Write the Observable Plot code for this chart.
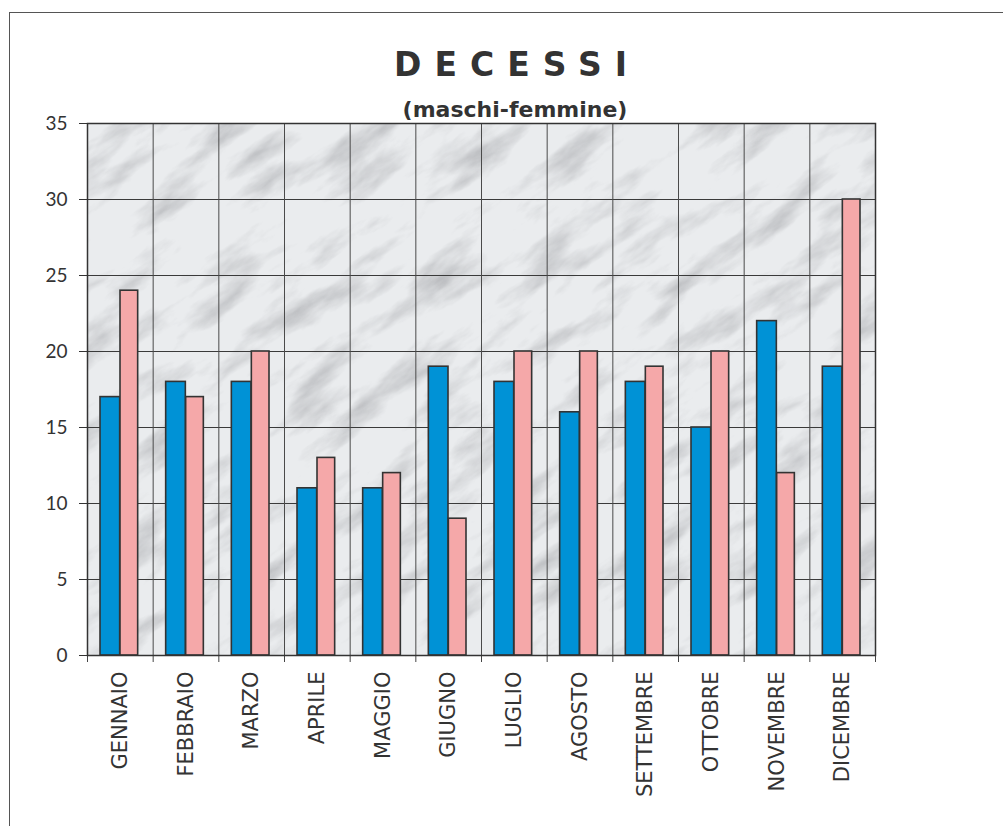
<!DOCTYPE html>
<html>
<head>
<meta charset="utf-8">
<script src="https://cdn.jsdelivr.net/npm/d3@7"></script>
<script src="https://cdn.jsdelivr.net/npm/@observablehq/plot@0.6"></script>
<style>
  html, body { margin: 0; padding: 0; background: #fff; }
  #wrap { position: relative; width: 1003px; height: 826px; overflow: hidden; }
  #border { position: absolute; left: 9px; top: 12px; right: -5px; bottom: -5px; border-left: 1.5px solid #555; border-top: 1.5px solid #555; }
  .title { position: absolute; left: 0; width: 1034px; text-align: center; font-family: "DejaVu Sans", sans-serif; font-weight: bold; color: #333; }
  #t1 { top: 45px; font-size: 33px; letter-spacing: 13px; }
  #t2 { top: 97px; font-size: 22px; width: 1030px; }
  #chart { position: absolute; left: 0; top: 0; }
</style>
</head>
<body>
<svg width="0" height="0" style="position:absolute">
  <defs>
    <filter id="marbleFx" x="0" y="0" width="100%" height="100%">
      <feTurbulence type="fractalNoise" baseFrequency="0.012 0.035" numOctaves="5" seed="11" stitchTiles="stitch" result="noise"/>
      <feColorMatrix in="noise" type="matrix" values="0 0 0 0 0.50  0 0 0 0 0.51  0 0 0 0 0.53  2.4 0 0 0 -1.15" result="veins"/>
      <feFlood flood-color="#eaecee" result="base"/>
      <feComposite in="veins" in2="base" operator="over"/>
    </filter>
    <pattern id="marbleFill" patternUnits="userSpaceOnUse" width="500" height="500" patternTransform="rotate(-35)">
      <rect width="500" height="500" fill="#eaecee" filter="url(#marbleFx)"/>
    </pattern>
  </defs>
</svg>
<div id="wrap">
  <div id="border"></div>
  <div id="chart"></div>
  <div class="title" id="t1">DECESSI</div>
  <div class="title" id="t2">(maschi-femmine)</div>
</div>
<script>
const months = ["GENNAIO","FEBBRAIO","MARZO","APRILE","MAGGIO","GIUGNO","LUGLIO","AGOSTO","SETTEMBRE","OTTOBRE","NOVEMBRE","DICEMBRE"];
const maschi  = [17, 18, 18, 11, 11, 19, 18, 16, 18, 15, 22, 19];
const femmine = [24, 17, 20, 13, 12,  9, 20, 20, 19, 20, 12, 30];
const yTicks = [0, 5, 10, 15, 20, 25, 30, 35];

const data = months.map((m, i) => ({i, m, maschi: maschi[i], femmine: femmine[i]}));
const bounds = d3.range(months.length + 1);
const centers = d3.range(months.length).map(i => i + 0.5);

const chart = Plot.plot({
  width: 1003,
  height: 826,
  marginLeft: 87,
  marginRight: 128,
  marginTop: 123,
  marginBottom: 171,
  x: {domain: [0, months.length], axis: null},
  y: {domain: [0, 35], axis: null},
  style: {background: "transparent", overflow: "visible", color: "#333"},
  marks: [
    Plot.frame({fill: "url(#marbleFill)", stroke: null}),
    Plot.gridY(yTicks, {stroke: "#3a3a3a", strokeOpacity: 1, strokeWidth: 1.2}),
    Plot.gridX(bounds, {stroke: "#4a4a4a", strokeOpacity: 1, strokeWidth: 1}),
    Plot.rectY(data, {x1: d => d.i, x2: d => d.i + 1, y1: 0, y2: "maschi", insetLeft: 13, insetRight: 33, fill: "#0092d6", stroke: "#333", strokeWidth: 1.6}),
    Plot.rectY(data, {x1: d => d.i, x2: d => d.i + 1, y1: 0, y2: "femmine", insetLeft: 33, insetRight: 15, fill: "#f5a8a9", stroke: "#333", strokeWidth: 1.6}),
    Plot.axisY({ticks: yTicks, tickSize: 8, tickPadding: 12, fontSize: 19, fontFamily: "Lato, sans-serif", fill: "#333", stroke: "#333"}),
    Plot.axisX({ticks: bounds, tickSize: 7, tickFormat: () => "", stroke: "#444"}),
    Plot.axisX({ticks: centers, tickSize: 0, tickPadding: 16, tickRotate: -90, tickFormat: v => months[Math.floor(v)], fontSize: 21, fontFamily: "DejaVu Sans, sans-serif", fill: "#333"}),
    Plot.frame({stroke: "#333", strokeWidth: 1.5})
  ]
});
document.getElementById("chart").appendChild(chart);
</script>
</body>
</html>
